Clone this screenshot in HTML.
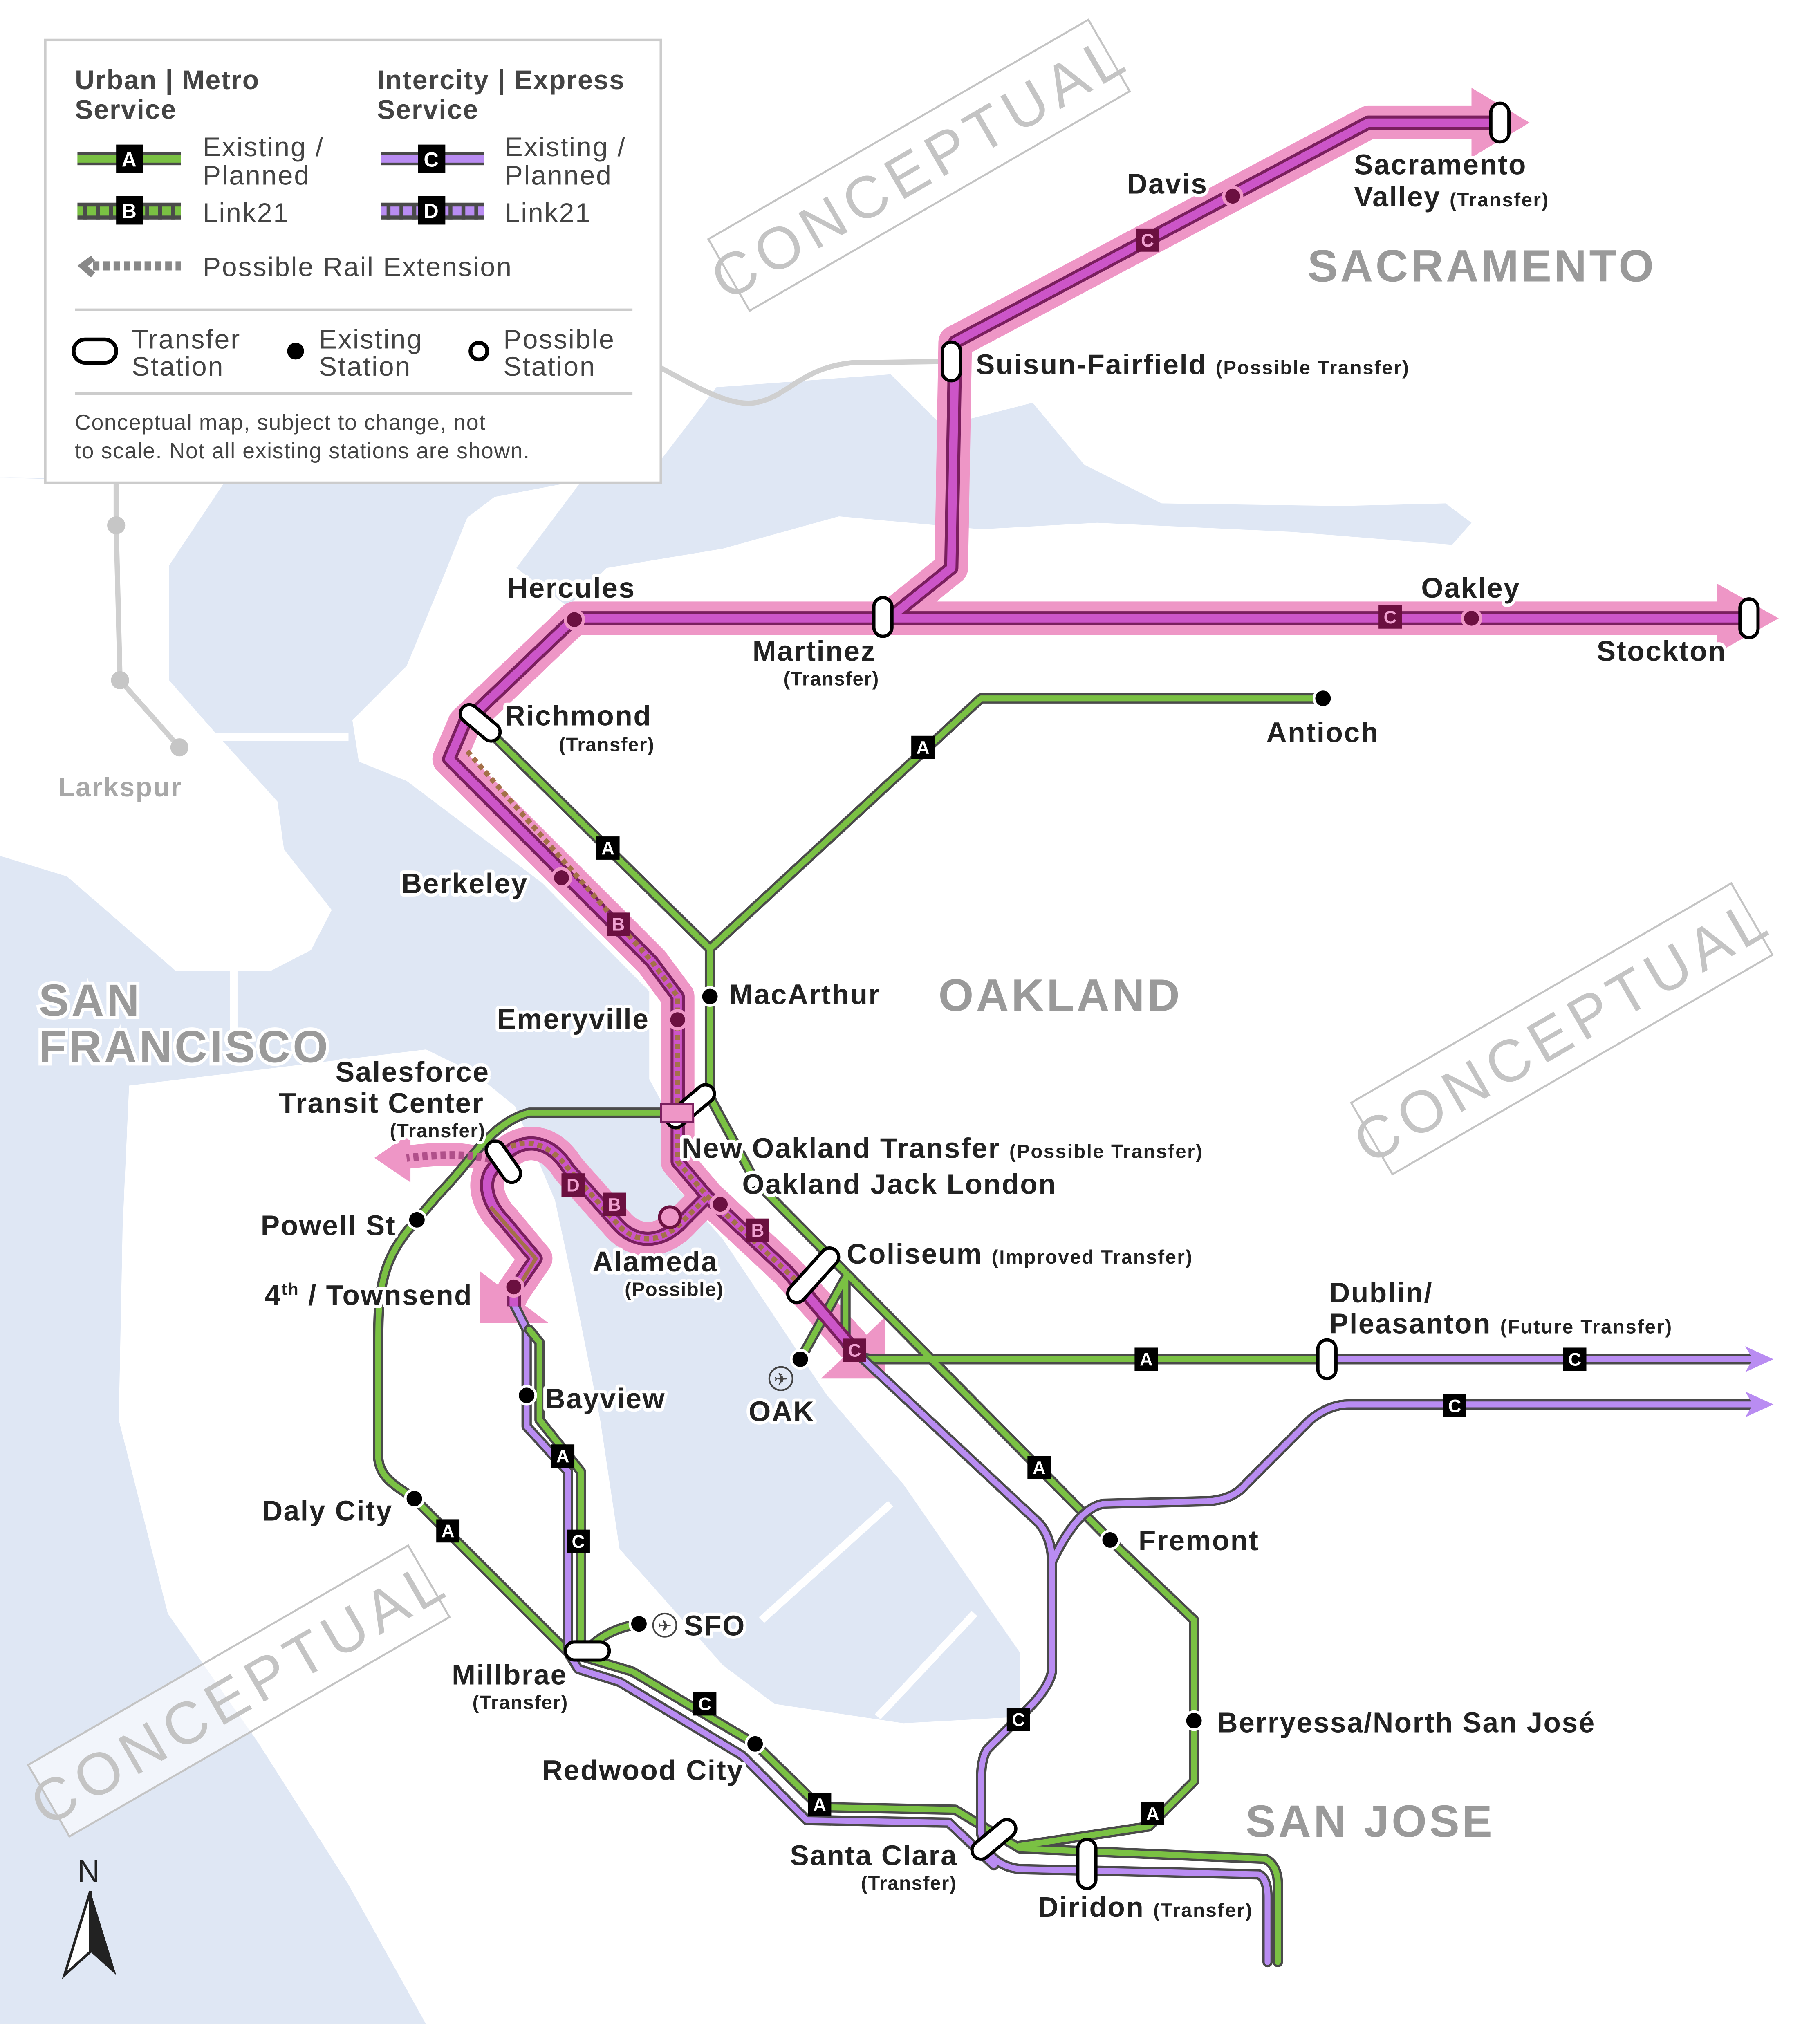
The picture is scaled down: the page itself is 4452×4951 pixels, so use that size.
<!DOCTYPE html>
<html><head><meta charset="utf-8"><style>
html,body{margin:0;padding:0;background:#fff}
svg{display:block}
text{font-family:"Liberation Sans",sans-serif}
.st{font-size:22px;font-weight:bold;fill:#222;stroke:#fff;stroke-width:5px;paint-order:stroke;stroke-linejoin:round;letter-spacing:0.8px}
.sm{font-size:15px;font-weight:bold;fill:#222;stroke:#fff;stroke-width:4px;paint-order:stroke;stroke-linejoin:round;letter-spacing:0.5px}
.rg{font-size:35px;font-weight:bold;fill:#9a9a9a;stroke:#fff;stroke-width:5px;paint-order:stroke;letter-spacing:2px}
.lg{font-size:21px;fill:#444;letter-spacing:0.9px}
.lh{font-size:21px;font-weight:bold;fill:#444;letter-spacing:0.6px}
.cp{font-size:46px;fill:#c4c4c4;letter-spacing:5px}
</style></head><body>
<svg width="4452" height="4951" viewBox="0 0 1410 1568" preserveAspectRatio="none" xmlns="http://www.w3.org/2000/svg">
<rect width="1410" height="1568" fill="#fff"/>
<!-- water -->
<g fill="#dfe7f4">
<path d="M0,370 L173,372 L300,345 L451,372 L383,385 L362,401 L341,453 L315,516 L273,558 L278,590 L315,605 L420,684 L503,768 L503,836 L516,860 L520,915 L560,960 L600,1020 L640,1080 L700,1150 L790,1280 L790,1330 L700,1335 L600,1320 L560,1290 L480,1200 L465,1100 L445,1000 L430,930 L399,857 L367,831 L330,813 L100,841 L95,950 L92,1100 L130,1250 L200,1350 L270,1460 L330,1568 L0,1568Z"/>
<path d="M451,372 L500,372 L555,300 L690,290 L730,330 L800,312 L840,360 L900,390 L1040,392 L1120,390 L1140,405 L1125,422 L1000,412 L850,405 L760,410 L650,400 L560,425 L470,440 L440,470 L400,440Z"/>
</g>
<!-- Marin land -->
<path d="M0,370 L173,375 L131,438 L131,527 L168,569 L215,621 L220,658 L257,705 L241,736 L210,752 L136,752 L52,679 L0,663Z" fill="#fff"/>
<g stroke="#fff" stroke-width="6" fill="none">
<path d="M160,571 L270,571"/>
<path d="M181,750 L181,815"/>
<path d="M590,1255 L690,1165"/>
<path d="M680,1330 L755,1250"/>
</g>
<!-- gray lines -->
<g stroke="#cfcfcf" stroke-width="4" fill="none">
<path d="M90,375 L90,407 L93,527 L139,579"/>
<path d="M512,285 C540,300 565,315 585,312 C610,308 620,285 660,281 L737,280"/>
</g>
<g fill="#c6c6c6"><circle cx="90" cy="407" r="7"/><circle cx="93" cy="527" r="7"/><circle cx="139" cy="579" r="7"/></g>

<!-- CONCEPTUAL boxes -->
<g transform="translate(712,128) rotate(-30)"><rect x="-170" y="-32" width="340" height="64" fill="#fff" fill-opacity="0.6" stroke="#c4c4c4" stroke-width="1.5"/><text class="cp" x="0" y="17" text-anchor="middle">CONCEPTUAL</text></g>
<g transform="translate(1210,797) rotate(-30)"><rect x="-170" y="-32" width="340" height="64" fill="#fff" fill-opacity="0.6" stroke="#c4c4c4" stroke-width="1.5"/><text class="cp" x="0" y="17" text-anchor="middle">CONCEPTUAL</text></g>
<g transform="translate(185,1310) rotate(-30)"><rect x="-170" y="-32" width="340" height="64" fill="#fff" fill-opacity="0.6" stroke="#c4c4c4" stroke-width="1.5"/><text class="cp" x="0" y="17" text-anchor="middle">CONCEPTUAL</text></g>

<!-- pink bands -->
<g stroke="#ee96c6" stroke-width="26" fill="none" stroke-linejoin="round">
<path d="M1150,95 L1060,95 L740,265 L737,440 L690,478"/>
<path d="M1340,479 L445,479 L360,560 L348,588 L505,745 L525,772 L525,900 L548,927 L610,985 L662,1043"/>
<path d="M385,902 C400,880 425,880 440,905 L480,950 C495,965 515,962 530,945 L548,927"/>
<path d="M385,902 C370,915 380,935 390,945 L415,975 L398,1000 L392,1012"/>
<path d="M385,902 C360,890 330,895 310,897" stroke-width="18"/>
</g>
<g fill="#ee96c6">
<polygon points="1140,68 1185,95 1140,122"/>
<polygon points="1330,452 1378,479 1330,506"/>
<polygon points="290,897 318,878 318,916"/>
<polygon points="372,985 372,1025 425,1025 405,1010"/>
<polygon points="686,1020 686,1068 636,1068 655,1050"/>
</g>

<!-- green lines -->
<g fill="none" stroke-linejoin="round" stroke-linecap="round">
<g stroke="#4a4a4a" stroke-width="8">
<path d="M372,560 L550,735 L550,850 L585,915 L860,1193 L925,1255 L925,1380 L890,1415 L790,1430"/>
<path d="M1025,541 L760,541 L550,735"/>
<path d="M535,862 L410,862 C380,870 365,900 340,925 L323,945 C295,975 293,1000 293,1040 L293,1130 C295,1145 305,1150 321,1161 L440,1280 L490,1295 L585,1351 L635,1400 L740,1402 L790,1432 L980,1440 Q990,1445 990,1460 L990,1520"/>
<path d="M655,990 L655,1040 Q660,1053 680,1053 L1028,1053"/>
<path d="M620,1053 L655,990"/>
<path d="M455,1278 Q470,1262 495,1258"/>
</g>
<g stroke="#7ac143" stroke-width="4.5">
<path d="M372,560 L550,735 L550,850 L585,915 L860,1193 L925,1255 L925,1380 L890,1415 L790,1430"/>
<path d="M1025,541 L760,541 L550,735"/>
<path d="M535,862 L410,862 C380,870 365,900 340,925 L323,945 C295,975 293,1000 293,1040 L293,1130 C295,1145 305,1150 321,1161 L440,1280 L490,1295 L585,1351 L635,1400 L740,1402 L790,1432 L980,1440 Q990,1445 990,1460 L990,1520"/>
<path d="M655,990 L655,1040 Q660,1053 680,1053 L1028,1053"/>
<path d="M620,1053 L655,990"/>
<path d="M455,1278 Q470,1262 495,1258"/>
</g>
<!-- purple lines -->
<g stroke="#4a4a4a" stroke-width="8">
<path d="M1028,1053 L1360,1053"/>
<path d="M1360,1088 L1045,1088 Q1030,1088 1015,1100 L965,1150 Q955,1162 935,1163 L855,1165 Q835,1168 815,1210 L815,1295 Q812,1310 790,1330 L765,1355 Q760,1362 760,1380 L760,1420 Q765,1445 790,1448 L975,1452 Q982,1455 982,1470 L982,1520"/>
<path d="M655,1040 L805,1180 Q815,1192 815,1210"/>
<path d="M398,1010 L408,1030 L408,1105 L440,1140 L440,1280 L448,1293 L480,1303 L575,1360 L625,1410 L735,1412 L770,1445"/>
</g>
<g stroke="#b98cf2" stroke-width="4.5">
<path d="M1028,1053 L1360,1053"/>
<path d="M1360,1088 L1045,1088 Q1030,1088 1015,1100 L965,1150 Q955,1162 935,1163 L855,1165 Q835,1168 815,1210 L815,1295 Q812,1310 790,1330 L765,1355 Q760,1362 760,1380 L760,1420 Q765,1445 790,1448 L975,1452 Q982,1455 982,1470 L982,1520"/>
<path d="M655,1040 L805,1180 Q815,1192 815,1210"/>
<path d="M398,1010 L408,1030 L408,1105 L440,1140 L440,1280 L448,1293 L480,1303 L575,1360 L625,1410 L735,1412 L770,1445"/>
</g>
<g stroke="#4a4a4a" stroke-width="8"><path d="M410,1030 L418,1040 L418,1100 L450,1140 L450,1270"/></g>
<g stroke="#7ac143" stroke-width="4.5"><path d="M410,1030 L418,1040 L418,1100 L450,1140 L450,1270"/></g>
</g>
<g fill="#b98cf2"><polygon points="1352,1043 1374,1053 1352,1063 1358,1053"/><polygon points="1352,1078 1374,1088 1352,1098 1358,1088"/></g>

<!-- magenta lines -->
<g fill="none" stroke-linejoin="round">
<g stroke="#7a1f5e" stroke-width="11">
<path d="M1160,95 L1060,95 L740,265 L737,440 L690,478"/>
<path d="M1355,479 L445,479 L360,560 L348,588 L505,745 L525,772 L525,900 L548,927 L610,985 L662,1046"/>
<path d="M385,902 C400,880 425,880 440,905 L480,950 C495,965 515,962 530,945 L548,927"/>
<path d="M385,902 C370,915 380,935 390,945 L415,975 L398,1000 L398,1012"/>
</g>
<g stroke="#cc55c8" stroke-width="6.5">
<path d="M1160,95 L1060,95 L740,265 L737,440 L690,478"/>
<path d="M1355,479 L445,479 L360,560 L348,588 L505,745 L525,772 L525,900 L548,927 L610,985 L662,1046"/>
<path d="M385,902 C400,880 425,880 440,905 L480,950 C495,965 515,962 530,945 L548,927"/>
<path d="M385,902 C370,915 380,935 390,945 L415,975 L398,1000 L398,1012"/>
</g>
<g stroke="#a47048" stroke-width="4" stroke-dasharray="4 3">
<path d="M362,582 L505,745 L525,772 L525,900 L548,927 L620,995"/>
<path d="M390,892 C405,880 425,885 440,905 L480,950 C495,965 515,962 530,945 L548,927"/>
</g>
<path d="M380,935 L415,975 L400,1000" stroke="#a47048" stroke-width="3"/>
<path d="M380,898 C360,893 335,895 315,897" stroke="#b0508a" stroke-width="6" stroke-dasharray="4 3"/>
</g>

<!-- transfer stations -->
<g fill="#fff" stroke="#000" stroke-width="2.5">
<rect x="1155" y="80" width="14" height="30" rx="7"/>
<rect x="730" y="265" width="14" height="30" rx="7"/>
<rect x="677" y="463" width="14" height="30" rx="7"/>
<rect x="1348" y="464" width="14" height="30" rx="7"/>
<rect x="1021" y="1038" width="14" height="30" rx="7"/>
<rect x="835" y="1425" width="14" height="38" rx="7"/>
<rect x="438" y="1272" width="34" height="14" rx="7"/>
<rect x="-18" y="-7" width="36" height="14" rx="7" transform="translate(372,560) rotate(40)"/>
<rect x="-18" y="-7" width="36" height="14" rx="7" transform="translate(390,900) rotate(55)"/>
<rect x="-22" y="-7" width="44" height="14" rx="7" transform="translate(535,857) rotate(-40)"/>
<rect x="-26" y="-7" width="52" height="14" rx="7" transform="translate(630,988) rotate(-48)"/>
<rect x="-20" y="-7" width="40" height="14" rx="7" transform="translate(770,1425) rotate(-40)"/>
</g>
<rect x="512" y="855" width="25" height="14" fill="#ee96c6" stroke="#7a1f5e" stroke-width="1.5"/>
<!-- dots -->
<g fill="#000" stroke="#fff" stroke-width="2">
<circle cx="1025" cy="541" r="7"/><circle cx="550" cy="772" r="7"/><circle cx="323" cy="945" r="7"/>
<circle cx="620" cy="1053" r="7"/><circle cx="408" cy="1081" r="7"/><circle cx="321" cy="1161" r="7"/>
<circle cx="495" cy="1258" r="7"/><circle cx="585" cy="1351" r="7"/><circle cx="860" cy="1193" r="7"/>
<circle cx="925" cy="1333" r="7"/>
</g>
<g fill="#6b1040" stroke="#ee96c6" stroke-width="2.5">
<circle cx="955" cy="152" r="7"/><circle cx="1140" cy="479" r="7"/><circle cx="445" cy="480" r="7"/>
<circle cx="435" cy="680" r="7"/><circle cx="525" cy="790" r="7"/><circle cx="558" cy="933" r="7"/>
<circle cx="398" cy="997" r="7"/>
</g>
<circle cx="519" cy="943" r="8" fill="#ee96c6" stroke="#6b1040" stroke-width="2.5"/>
<circle cx="582" cy="915" r="6" fill="#fff" stroke="#000" stroke-width="2.5"/>
<!-- airport icons -->
<g fill="none" stroke="#444" stroke-width="1.3"><circle cx="605" cy="1068" r="9"/><circle cx="515" cy="1259" r="9"/></g>
<text x="605" y="1073" font-size="13" text-anchor="middle" fill="#444">✈</text>
<text x="515" y="1264" font-size="13" text-anchor="middle" fill="#444">✈</text>

<!-- badges -->
<g font-size="14" font-weight="bold" text-anchor="middle">
<g fill="#000">
<rect x="706" y="570" width="18" height="18"/><rect x="462" y="648" width="18" height="18"/>
<rect x="879" y="1044" width="18" height="18"/><rect x="1211" y="1044" width="18" height="18"/>
<rect x="1118" y="1080" width="18" height="18"/><rect x="796" y="1128" width="18" height="18"/>
<rect x="427" y="1119" width="18" height="18"/><rect x="439" y="1185" width="18" height="18"/>
<rect x="338" y="1177" width="18" height="18"/><rect x="537" y="1311" width="18" height="18"/>
<rect x="626" y="1389" width="18" height="18"/><rect x="780" y="1323" width="18" height="18"/>
<rect x="884" y="1396" width="18" height="18"/>
</g>
<g fill="#fff">
<text x="715" y="584">A</text><text x="471" y="662">A</text><text x="888" y="1058">A</text>
<text x="1220" y="1058">C</text><text x="1127" y="1094">C</text><text x="805" y="1142">A</text>
<text x="436" y="1133">A</text><text x="448" y="1199">C</text><text x="347" y="1191">A</text>
<text x="546" y="1325">C</text><text x="635" y="1403">A</text><text x="789" y="1337">C</text>
<text x="893" y="1410">A</text>
</g>
<g fill="#6b1040">
<rect x="880" y="177" width="18" height="18"/><rect x="1068" y="469" width="18" height="18"/>
<rect x="470" y="707" width="18" height="18"/><rect x="435" y="909" width="18" height="18"/>
<rect x="467" y="924" width="18" height="18"/><rect x="578" y="944" width="18" height="18"/>
<rect x="653" y="1037" width="18" height="18"/>
</g>
<g fill="#f0a0d0">
<text x="889" y="191">C</text><text x="1077" y="483">C</text><text x="479" y="721">B</text>
<text x="444" y="923">D</text><text x="476" y="938">B</text><text x="587" y="958">B</text>
<text x="662" y="1051">C</text>
</g>
</g>

<!-- labels -->
<text class="st" x="873" y="150">Davis</text>
<text class="st" x="1049" y="135">Sacramento</text>
<text class="st" x="1049" y="160">Valley <tspan style="font-size:15px">(Transfer)</tspan></text>
<text class="rg" x="1013" y="218">SACRAMENTO</text>
<text class="st" x="756" y="290">Suisun-Fairfield <tspan style="font-size:15px">(Possible Transfer)</tspan></text>
<text class="st" x="393" y="463">Hercules</text>
<text class="st" x="1101" y="463">Oakley</text>
<text class="st" x="583" y="512">Martinez</text>
<text class="sm" x="607" y="531">(Transfer)</text>
<text class="st" x="1237" y="512">Stockton</text>
<text class="st" x="391" y="562">Richmond</text>
<text class="sm" x="433" y="582">(Transfer)</text>
<text class="st" x="981" y="575">Antioch</text>
<text x="45" y="617" font-size="21" font-weight="bold" fill="#a8a8a8" letter-spacing="0.8">Larkspur</text>
<text class="st" x="311" y="692">Berkeley</text>
<text class="st" x="565" y="778">MacArthur</text>
<text class="rg" x="727" y="783">OAKLAND</text>
<text class="rg" x="30" y="787">SAN</text>
<text class="rg" x="30" y="823">FRANCISCO</text>
<text class="st" x="385" y="797">Emeryville</text>
<text class="st" x="260" y="838">Salesforce</text>
<text class="st" x="216" y="862">Transit Center</text>
<text class="sm" x="302" y="881">(Transfer)</text>
<text class="st" x="528" y="897">New Oakland Transfer <tspan style="font-size:15px">(Possible Transfer)</tspan></text>
<text class="st" x="575" y="925">Oakland Jack London</text>
<text class="st" x="202" y="957">Powell St</text>
<text class="st" x="459" y="985">Alameda</text>
<text class="sm" x="484" y="1004">(Possible)</text>
<text class="st" x="656" y="979">Coliseum <tspan style="font-size:15px">(Improved Transfer)</tspan></text>
<text class="st" x="205" y="1011">4<tspan font-size="13" dy="-8">th</tspan><tspan dy="8"> / Townsend</tspan></text>
<text class="st" x="1030" y="1009">Dublin/</text>
<text class="st" x="1030" y="1033">Pleasanton <tspan style="font-size:15px">(Future Transfer)</tspan></text>
<text class="st" x="580" y="1101">OAK</text>
<text class="st" x="422" y="1091">Bayview</text>
<text class="st" x="203" y="1178">Daly City</text>
<text class="st" x="882" y="1201">Fremont</text>
<text class="st" x="530" y="1267">SFO</text>
<text class="st" x="350" y="1305">Millbrae</text>
<text class="sm" x="366" y="1324">(Transfer)</text>
<text class="st" x="420" y="1379">Redwood City</text>
<text class="st" x="943" y="1342">Berryessa/North San José</text>
<text class="rg" x="965" y="1423">SAN JOSE</text>
<text class="st" x="612" y="1445">Santa Clara</text>
<text class="sm" x="667" y="1464">(Transfer)</text>
<text class="st" x="804" y="1485">Diridon <tspan style="font-size:15px">(Transfer)</tspan></text>

<!-- north arrow -->
<text x="60" y="1458" font-size="24" fill="#222">N</text>
<polygon points="70,1465 50,1530 70,1512" fill="#fff" stroke="#222" stroke-width="2"/>
<polygon points="70,1465 90,1530 70,1512" fill="#222"/>

<!-- legend -->
<rect x="35" y="31" width="477" height="343" fill="#fff" stroke="#ccc" stroke-width="2"/>
<text class="lh" x="58" y="69">Urban | Metro</text>
<text class="lh" x="58" y="92">Service</text>
<text class="lh" x="292" y="69">Intercity | Express</text>
<text class="lh" x="292" y="92">Service</text>
<g>
<rect x="60" y="118" width="80" height="10" fill="#4a4a4a"/><rect x="60" y="120" width="80" height="6" fill="#7ac143"/>
<rect x="295" y="118" width="80" height="10" fill="#4a4a4a"/><rect x="295" y="120" width="80" height="6" fill="#b98cf2"/>
<rect x="60" y="157" width="80" height="13" fill="#4a4a4a"/><rect x="60" y="160" width="80" height="7" fill="#7ac143"/>
<rect x="295" y="157" width="80" height="13" fill="#4a4a4a"/><rect x="295" y="160" width="80" height="7" fill="#b98cf2"/>
<path d="M66,158 V170 M76,158 V170 M86,158 V170 M114,158 V170 M124,158 V170 M134,158 V170 M301,158 V170 M311,158 V170 M321,158 V170 M349,158 V170 M359,158 V170 M369,158 V170" stroke="#4a4a4a" stroke-width="3"/>
<rect x="90" y="112" width="21" height="22" fill="#000"/><rect x="90" y="152" width="21" height="22" fill="#000"/>
<rect x="324" y="112" width="21" height="22" fill="#000"/><rect x="324" y="152" width="21" height="22" fill="#000"/>
<g fill="#fff" font-size="16" font-weight="bold" text-anchor="middle">
<text x="100" y="129">A</text><text x="100" y="169">B</text><text x="334" y="129">C</text><text x="334" y="169">D</text></g>
<path d="M72,200 L64,206 L72,213" fill="none" stroke="#888" stroke-width="5"/>
<path d="M72,206 H140" stroke="#888" stroke-width="7" stroke-dasharray="5 3"/>
</g>
<text class="lg" x="157" y="121">Existing /</text><text class="lg" x="157" y="143">Planned</text>
<text class="lg" x="157" y="172">Link21</text>
<text class="lg" x="391" y="121">Existing /</text><text class="lg" x="391" y="143">Planned</text>
<text class="lg" x="391" y="172">Link21</text>
<text class="lg" x="157" y="214">Possible Rail Extension</text>
<line x1="58" y1="240" x2="490" y2="240" stroke="#ccc" stroke-width="2"/>
<rect x="57" y="263" width="33" height="18" rx="9" fill="#fff" stroke="#000" stroke-width="3"/>
<text class="lg" x="102" y="270">Transfer</text><text class="lg" x="102" y="291">Station</text>
<circle cx="229" cy="272" r="6.5" fill="#000"/>
<text class="lg" x="247" y="270">Existing</text><text class="lg" x="247" y="291">Station</text>
<circle cx="371" cy="272" r="6.5" fill="#fff" stroke="#000" stroke-width="3"/>
<text class="lg" x="390" y="270">Possible</text><text class="lg" x="390" y="291">Station</text>
<line x1="58" y1="305" x2="490" y2="305" stroke="#ccc" stroke-width="2"/>
<text x="58" y="333" font-size="17" fill="#444" letter-spacing="0.5">Conceptual map, subject to change, not</text>
<text x="58" y="355" font-size="17" fill="#444" letter-spacing="0.5">to scale. Not all existing stations are shown.</text>
</svg>
</body></html>
